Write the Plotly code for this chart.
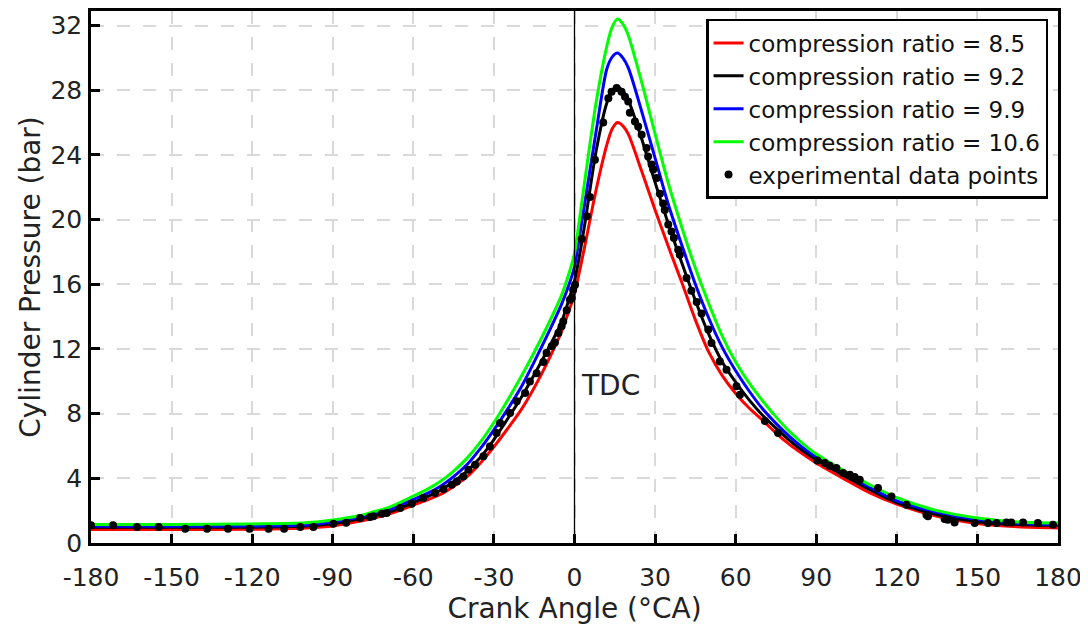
import plotly.graph_objects as go

# ---------------- data ----------------
angle = [-180, -150, -120, -100, -90, -80, -75, -70, -65, -60, -55, -50, -45, -40, -35, -30, -25, -20, -15, -10,
         -5, -2, 0, 2, 4, 8, 12, 14, 16, 18, 20, 25, 30, 35, 40, 45, 50, 55, 60, 65, 70, 75, 80, 85, 90,
         100, 110, 120, 135, 150, 165, 180]

p_cr85 = [0.83, 0.83, 0.85, 0.93, 1.05, 1.35, 1.53, 1.75, 2.02, 2.35, 2.65, 3.0, 3.5, 4.1, 4.95, 5.95, 7.05, 8.2, 9.6, 11.2,
          13.0, 14.4, 15.4, 16.9, 18.5, 21.8, 24.6, 25.6, 26.0, 25.8, 25.3, 23.0, 20.6, 18.3, 16.1, 13.8, 11.8, 10.35, 9.25,
          8.35, 7.6, 6.8, 6.1, 5.5, 4.95, 4.0, 3.1, 2.4, 1.65, 1.2, 1.0, 0.93]
p_cr92 = [0.97, 0.97, 0.98, 1.05, 1.2, 1.5, 1.68, 1.87, 2.15, 2.5, 2.85, 3.25, 3.8, 4.45, 5.3, 6.4, 7.65, 8.95, 10.4, 11.95,
          13.6, 15.1, 16.2, 17.9, 19.9, 24.2, 27.2, 27.95, 28.2, 27.95, 27.4, 25.0, 22.3, 19.7, 17.3, 15.0, 12.9, 11.2, 9.95,
          8.85, 7.9, 7.1, 6.35, 5.7, 5.15, 4.2, 3.3, 2.5, 1.75, 1.32, 1.15, 1.1]
p_cr99 = [1.03, 1.03, 1.05, 1.12, 1.3, 1.6, 1.8, 2.0, 2.33, 2.7, 3.05, 3.5, 4.1, 4.85, 5.85, 7.0, 8.25, 9.6, 11.2, 12.9,
          14.7, 16.0, 17.1, 19.1, 21.2, 25.4, 29.3, 30.05, 30.3, 30.0, 29.4, 26.7, 23.8, 20.9, 18.4, 16.0, 13.9, 12.1, 10.65,
          9.4, 8.3, 7.4, 6.6, 5.9, 5.3, 4.35, 3.45, 2.6, 1.9, 1.45, 1.22, 1.15]
p_cr106 = [1.15, 1.15, 1.18, 1.25, 1.42, 1.7, 1.92, 2.15, 2.5, 2.9, 3.3, 3.8, 4.45, 5.25, 6.25, 7.45, 8.8, 10.25, 11.8, 13.45,
           15.25, 16.7, 17.9, 20.2, 22.6, 27.2, 30.7, 31.9, 32.4, 32.1, 31.4, 28.5, 25.3, 22.2, 19.5, 17.0, 14.8, 12.8, 11.2,
           9.9, 8.8, 7.8, 6.9, 6.15, 5.5, 4.5, 3.6, 2.8, 2.0, 1.55, 1.3, 1.24]

exp_angle = [-180.0, -171.8, -162.9, -154.8, -144.9, -136.8, -129.0, -121.0, -113.9, -108.1, -102.1, -97.2,
             -89.8, -85.0, -79.8, -76.1, -74.9, -71.7, -69.9, -64.9, -60.6, -56.3, -51.9, -48.8, -45.7, -43.8,
             -41.4, -39.5, -37.0, -33.9, -31.5, -29.0, -27.7, -24.0, -21.5, -18.4, -16.6, -14.1, -11.6, -10.4,
             -8.5, -7.3, -6.0, -4.8, -4.2, -2.9, -1.7, -1.0, -0.5, 0.2,
             2.7, 4.6, 5.75, 7.6, 10.7, 12.6, 13.8, 15.7, 17.5, 18.8, 20.0, 20.6, 22.5, 23.7, 25.0, 26.8, 27.4,
             28.7, 29.3, 30.6, 31.8, 33.0, 33.6, 34.9, 36.1, 37.0, 38.6, 39.2, 41.7, 43.5, 45.5, 47.3, 49.8,
             51.0, 54.1, 56.6, 60.3, 61.6, 70.9, 75.8, 90.4, 93.2, 95.0, 97.5, 100.0, 102.5, 104.3, 106.2,
             113.0, 118.0, 123.6, 131.0, 131.6, 137.8, 139.0, 141.5, 149.0, 153.9, 157.1, 160.8, 162.6, 167.0,
             172.5, 178.1]
exp_pressure = [1.09, 1.09, 0.99, 0.99, 0.88, 0.88, 0.88, 0.88, 0.88, 0.88, 0.99, 0.99,
                1.19, 1.26, 1.55, 1.61, 1.65, 1.81, 1.86, 2.16, 2.43, 2.78, 3.09, 3.34, 3.60, 3.81,
                4.12, 4.53, 4.84, 5.36, 5.97, 6.80, 7.42, 8.04, 8.76, 9.28, 9.99, 10.5, 11.2, 11.75,
                12.16, 12.4, 12.99, 13.4, 13.7, 14.4, 15.05, 15.15, 15.66, 15.97,
                18.8, 20.2, 21.4, 23.7, 26.0, 27.5, 27.9, 28.14, 27.9, 27.6, 27.3, 26.6, 26.07, 25.76, 25.25, 24.43, 23.9,
                23.4, 23.1, 22.57, 21.6, 21.0, 20.6, 19.7, 19.27, 18.86, 18.14, 17.83, 16.39, 15.6, 14.9, 14.2, 13.2,
                12.37, 11.23, 10.72, 9.69, 9.17, 7.55, 6.8, 5.1, 4.95, 4.78, 4.64, 4.33, 4.22, 4.08, 3.91,
                3.40, 2.88, 2.37, 1.75, 1.65, 1.48, 1.44, 1.27, 1.24, 1.24, 1.24, 1.27, 1.27, 1.27,
                1.24, 1.13]

x_ticks = [-180, -150, -120, -90, -60, -30, 0, 30, 60, 90, 120, 150, 180]
x_tick_text = ["-180", "-150", "-120", "-90", "-60", "-30", "0", "30", "60", "90", "120", "150", "180"]
y_ticks = [0, 4, 8, 12, 16, 20, 24, 28, 32]

series_names = ["compression ratio = 8.5", "compression ratio = 9.2",
                "compression ratio = 9.9", "compression ratio = 10.6"]
series_values = [p_cr85, p_cr92, p_cr99, p_cr106]
series_colors = ["#ff0000", "#000000", "#0000ff", "#00ff00"]

FONT = "DejaVu Sans"

fig = go.Figure()
for name, vals, col in zip(series_names, series_values, series_colors):
    fig.add_trace(go.Scatter(x=angle, y=vals, mode="lines", name=name,
                             line=dict(color=col, width=3, shape="spline", smoothing=0.8)))
fig.add_trace(go.Scatter(x=exp_angle, y=exp_pressure, mode="markers", name="experimental data points",
                         marker=dict(color="black", size=8)))

# TDC line
fig.add_shape(type="line", x0=0, x1=0, y0=0, y1=1, xref="x", yref="paper",
              line=dict(color="black", width=1.3), layer="above")
fig.add_annotation(x=1.5, y=9.75, text="TDC", showarrow=False, xanchor="left", yanchor="middle",
                   font=dict(family=FONT, size=28, color="#222222"))

grid = dict(showgrid=True, gridcolor="#d9d9d9", gridwidth=2, griddash="13px,13px")
fig.update_xaxes(range=[-180, 180], tickvals=x_ticks, ticktext=x_tick_text,
                 ticks="inside", ticklen=9, tickwidth=2.5, tickcolor="black",
                 showline=True, linecolor="black", linewidth=2.5, mirror=True,
                 zeroline=False, ticklabelstandoff=10, automargin=False,
                 tickfont=dict(family=FONT, size=25, color="#222222"),
                 title=dict(text="Crank Angle (°CA)", font=dict(family=FONT, size=28, color="#222222"),
                            standoff=8),
                 **grid)
fig.update_yaxes(range=[0, 32.9], tickvals=y_ticks,
                 ticks="inside", ticklen=9, tickwidth=2.5, tickcolor="black",
                 showline=True, linecolor="black", linewidth=2.5, mirror=True,
                 zeroline=False, ticklabelstandoff=1, automargin=False,
                 tickfont=dict(family=FONT, size=25, color="#222222"),
                 title=dict(text="Cylinder Pressure (bar)", font=dict(family=FONT, size=28, color="#222222"),
                            standoff=2),
                 **grid)

# page body has an 8px default margin, so the figure is drawn 8px in from the window edge
fig.update_layout(
    width=1080, height=622,
    margin=dict(l=83, r=30, t=3, b=87, autoexpand=False),
    paper_bgcolor="white", plot_bgcolor="white",
    showlegend=True,
    legend=dict(x=0.9897, y=0.985, xanchor="right", yanchor="top",
                bgcolor="white", bordercolor="black", borderwidth=2.5,
                font=dict(family=FONT, size=23, color="#111111"),
                tracegroupgap=0, itemwidth=30),
)

fig.write_html("out.html")
